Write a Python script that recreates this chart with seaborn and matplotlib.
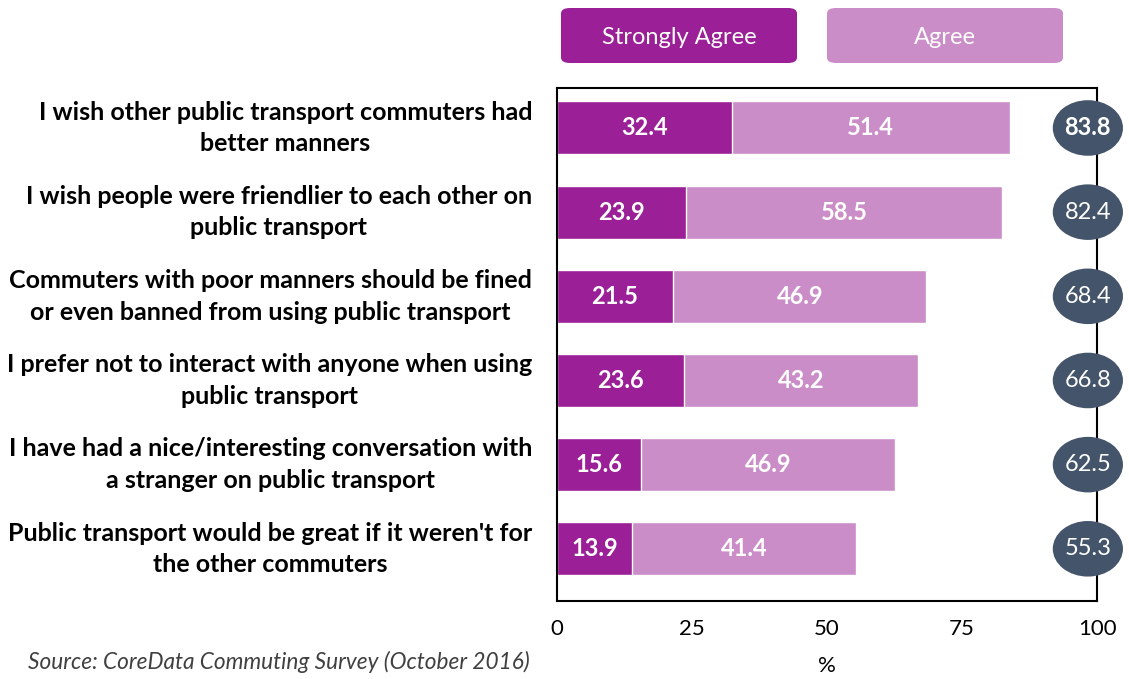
import pandas as pd
import matplotlib.pyplot as plt
import seaborn as sns
from matplotlib.patches import Ellipse, FancyBboxPatch

statements = [
    "I wish other public transport commuters had\nbetter manners",
    "I wish people were friendlier to each other on\npublic transport",
    "Commuters with poor manners should be fined\nor even banned from using public transport",
    "I prefer not to interact with anyone when using\npublic transport",
    "I have had a nice/interesting conversation with\na stranger on public transport",
    "Public transport would be great if it weren't for\nthe other commuters",
]
strongly_agree = [32.4, 23.9, 21.5, 23.6, 15.6, 13.9]
agree = [51.4, 58.5, 46.9, 43.2, 46.9, 41.4]
totals = [83.8, 82.4, 68.4, 66.8, 62.5, 55.3]
x_ticks = [0, 25, 50, 75, 100]

DARK = "#9b1f96"
LIGHT = "#cb8dc8"
CIRCLE = "#44546a"

sns.set_style("white")
plt.rcParams['font.family'] = ['Lato', 'DejaVu Sans']
plt.rcParams['text.color'] = 'black'
plt.rcParams['xtick.color'] = 'black'
plt.rcParams['ytick.color'] = 'black'
plt.rcParams['axes.labelcolor'] = 'black'

df = pd.DataFrame({"statement": statements, "sa": strongly_agree, "agree": agree})
df["stack"] = df["sa"] + df["agree"]

fig = plt.figure(figsize=(11.29, 6.79), dpi=100)
ax = fig.add_axes([0.4934, 0.1149, 0.4783, 0.7555])

sns.barplot(data=df, x="stack", y="statement", color=LIGHT, width=0.63,
            saturation=1, orient="h", ax=ax)
sns.barplot(data=df, x="sa", y="statement", color=DARK, width=0.63,
            saturation=1, orient="h", ax=ax)

for i, row in df.iterrows():
    ax.text(row["sa"] / 2, i, f"{row['sa']:.1f}", color="white", fontsize=17,
            fontweight="bold", ha="center", va="center")
    ax.text(row["sa"] + row["agree"] / 2, i, f"{row['agree']:.1f}", color="white",
            fontsize=17, fontweight="bold", ha="center", va="center")
    e = Ellipse((98.3, i), 13.0, 0.66, facecolor=CIRCLE, edgecolor="none",
                clip_on=False, zorder=5)
    ax.add_patch(e)
    ax.text(98.3, i, f"{totals[i]:.1f}", color="white", fontsize=17,
            fontweight="bold" if i == 0 else "normal",
            ha="center", va="center", zorder=6, clip_on=False)

ax.set_xlim(0, 100)
ax.set_ylim(5.62, -0.475)
ax.set_xticks(x_ticks)
ax.set_xticklabels([str(t) for t in x_ticks], fontsize=16)
ax.set_yticks(range(len(statements)))
ax.set_yticklabels(statements, fontsize=18, fontweight="bold", multialignment="center",
                   linespacing=1.45, va="center")
ax.tick_params(axis="both", length=0)
ax.tick_params(axis="y", pad=18)
ax.tick_params(axis="x", pad=13)
ax.set_xlabel("%", fontsize=16, labelpad=12)
ax.set_ylabel("")
for s in ax.spines.values():
    s.set_visible(True)
    s.set_color("black")
    s.set_linewidth(1.5)

# legend boxes
W, H = 1129, 679
for x0, label, col in [(561, "Strongly Agree", DARK), (827, "Agree", LIGHT)]:
    box = FancyBboxPatch((x0 / W, 1 - 63 / H), 236 / W, 55 / H,
                         boxstyle="round,pad=0,rounding_size=0.008",
                         transform=fig.transFigure, facecolor=col, edgecolor="none")
    fig.patches.append(box)
    fig.text((x0 + 118) / W, 1 - 37 / H, label, color="white", fontsize=17,
             ha="center", va="center")

fig.text(28 / W, 1 - 662 / H, "Source: CoreData Commuting Survey (October 2016)",
         fontsize=16.3, style="italic", color="#404040", ha="left", va="center")

plt.savefig("out.png", dpi=100)
plt.close()
